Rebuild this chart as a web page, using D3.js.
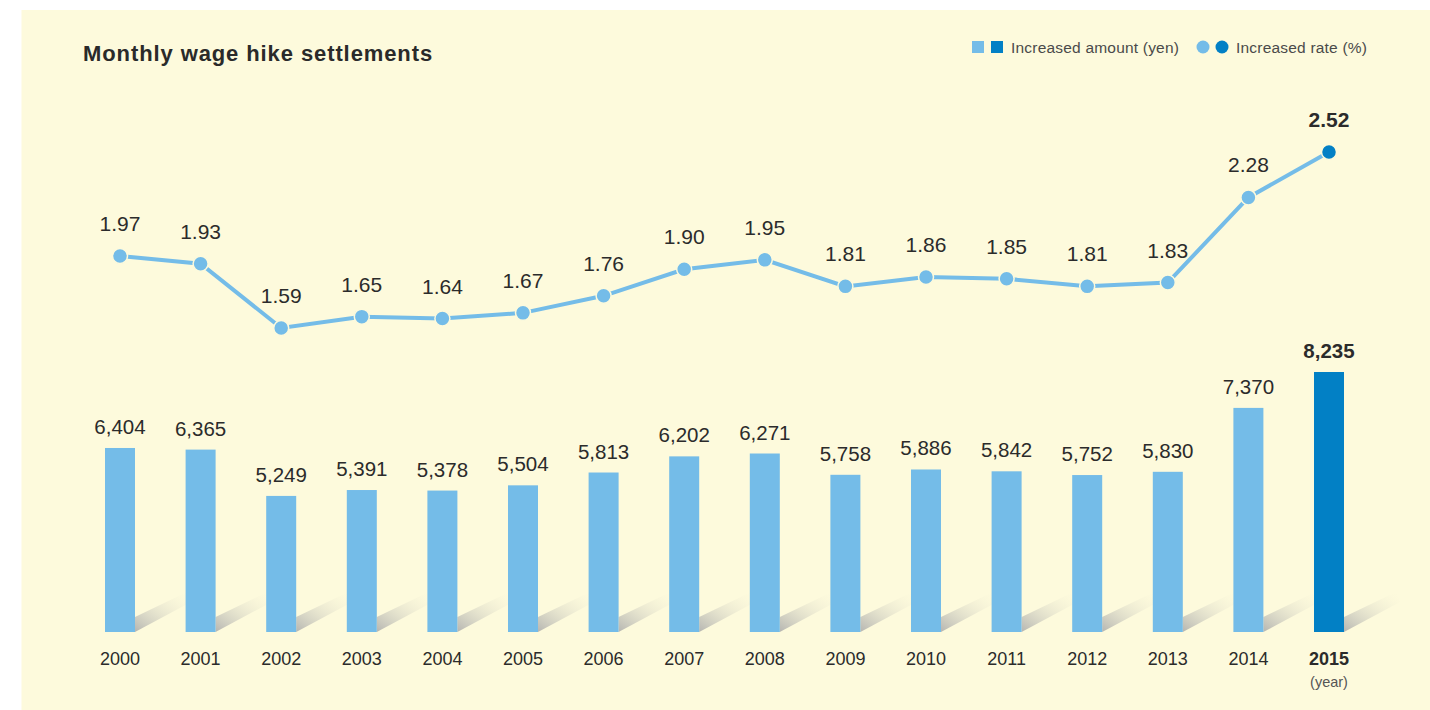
<!DOCTYPE html>
<html>
<head>
<meta charset="utf-8">
<script src="https://cdn.jsdelivr.net/npm/d3@7"></script>
<style>
  body { margin: 0; background: #fff; }
  svg text { font-family: "Liberation Sans", Arial, sans-serif; fill: #2b2b2b; }
</style>
</head>
<body>
<div id="chart"></div>
<script>
// data
const years = ["2000","2001","2002","2003","2004","2005","2006","2007","2008","2009","2010","2011","2012","2013","2014","2015"];
const amounts = [6404, 6365, 5249, 5391, 5378, 5504, 5813, 6202, 6271, 5758, 5886, 5842, 5752, 5830, 7370, 8235];
const rates = [1.97, 1.93, 1.59, 1.65, 1.64, 1.67, 1.76, 1.90, 1.95, 1.81, 1.86, 1.85, 1.81, 1.83, 2.28, 2.52];

const W = 1430, H = 710;
const light = "#74bce8", dark = "#0280c5";
const last = years.length - 1;

const svg = d3.select("#chart").append("svg")
    .attr("width", W)
    .attr("height", H);

// 背景パネル
svg.append("rect")
    .attr("x", 21.5).attr("y", 10)
    .attr("width", W - 21.5).attr("height", H - 10)
    .attr("fill", "#fdfadc");

// 影のグラデーション
const defs = svg.append("defs");
const grad = defs.append("linearGradient")
    .attr("id", "shadow")
    .attr("x1", "0%").attr("y1", "100%")
    .attr("x2", "100%").attr("y2", "0%");
grad.append("stop").attr("offset", "0%").attr("stop-color", "#b5b5b1").attr("stop-opacity", 1);
grad.append("stop").attr("offset", "100%").attr("stop-color", "#fdfadc").attr("stop-opacity", 0);

// scales
const x = d3.scalePoint().domain(years).range([120, 1329]);
const yBar = d3.scaleLinear().domain([1970, 8235]).range([632, 372]);
const yLine = d3.scaleLinear().domain([1.59, 2.52]).range([328, 152]);
const bw = 30;
const base = yBar.range()[0];

// title
svg.append("text")
    .attr("x", 83).attr("y", 61)
    .attr("font-size", 22).attr("font-weight", "bold")
    .attr("letter-spacing", 0.9)
    .style("fill", "#2a2a2a")
    .text("Monthly wage hike settlements");

// legend
const lg = svg.append("g").attr("class", "legend");
lg.append("rect").attr("x", 972).attr("y", 41).attr("width", 12).attr("height", 12).attr("fill", light);
lg.append("rect").attr("x", 991).attr("y", 41).attr("width", 12).attr("height", 12).attr("fill", dark);
lg.append("text").attr("x", 1011).attr("y", 53).attr("font-size", 15.5).attr("letter-spacing", 0.2)
    .style("fill", "#4a4a4a")
    .text("Increased amount (yen)");
lg.append("circle").attr("cx", 1203).attr("cy", 47).attr("r", 6.5).attr("fill", light);
lg.append("circle").attr("cx", 1222).attr("cy", 47).attr("r", 6.5).attr("fill", dark);
lg.append("text").attr("x", 1236).attr("y", 53).attr("font-size", 15.5).attr("letter-spacing", 0.2)
    .style("fill", "#4a4a4a")
    .text("Increased rate (%)");

// shadows
svg.selectAll(".shadow")
    .data(years)
    .enter().append("path")
    .attr("class", "shadow")
    .attr("fill", "url(#shadow)")
    .attr("d", function(d) {
      const x0 = x(d) + bw / 2;
      return "M" + x0 + "," + base +
             "L" + x0 + "," + (base - 15) +
             "L" + (x0 + 52) + "," + (base - 40) +
             "L" + (x0 + 56) + "," + (base - 30) + "Z";
    });

// bars
svg.selectAll(".bar")
    .data(amounts)
    .enter().append("rect")
    .attr("class", "bar")
    .attr("x", function(d, i) { return x(years[i]) - bw / 2; })
    .attr("y", function(d) { return yBar(d); })
    .attr("width", bw)
    .attr("height", function(d) { return base - yBar(d); })
    .attr("fill", function(d, i) { return i === last ? dark : light; });

// bar labels
svg.selectAll(".bar-label")
    .data(amounts)
    .enter().append("text")
    .attr("class", "bar-label")
    .attr("x", function(d, i) { return x(years[i]); })
    .attr("y", function(d) { return yBar(d) - 14; })
    .attr("text-anchor", "middle")
    .attr("font-size", 20.5)
    .attr("font-weight", function(d, i) { return i === last ? "bold" : "normal"; })
    .text(function(d) { return d3.format(",")(d); });

// line
const line = d3.line()
    .x(function(d, i) { return x(years[i]); })
    .y(function(d) { return yLine(d); });

svg.append("path")
    .datum(rates)
    .attr("fill", "none")
    .attr("stroke", light)
    .attr("stroke-width", 4)
    .attr("d", line);

svg.selectAll(".dot")
    .data(rates)
    .enter().append("circle")
    .attr("class", "dot")
    .attr("cx", function(d, i) { return x(years[i]); })
    .attr("cy", function(d) { return yLine(d); })
    .attr("r", 7.5)
    .attr("fill", function(d, i) { return i === last ? dark : light; })
    .attr("stroke", "#fdfadc")
    .attr("stroke-width", 1.5);

svg.selectAll(".rate-label")
    .data(rates)
    .enter().append("text")
    .attr("class", "rate-label")
    .attr("x", function(d, i) { return x(years[i]); })
    .attr("y", function(d) { return yLine(d) - 25; })
    .attr("text-anchor", "middle")
    .attr("font-size", 21)
    .attr("font-weight", function(d, i) { return i === last ? "bold" : "normal"; })
    .text(function(d) { return d.toFixed(2); });

// x axis labels
svg.selectAll(".year")
    .data(years)
    .enter().append("text")
    .attr("class", "year")
    .attr("x", function(d) { return x(d); })
    .attr("y", 665)
    .attr("text-anchor", "middle")
    .attr("font-size", 18)
    .attr("font-weight", function(d, i) { return i === last ? "bold" : "normal"; })
    .text(function(d) { return d; });

svg.append("text")
    .attr("x", x(years[last])).attr("y", 687)
    .attr("text-anchor", "middle")
    .attr("font-size", 14.5)
    .style("fill", "#555")
    .text("(year)");
</script>
</body>
</html>
